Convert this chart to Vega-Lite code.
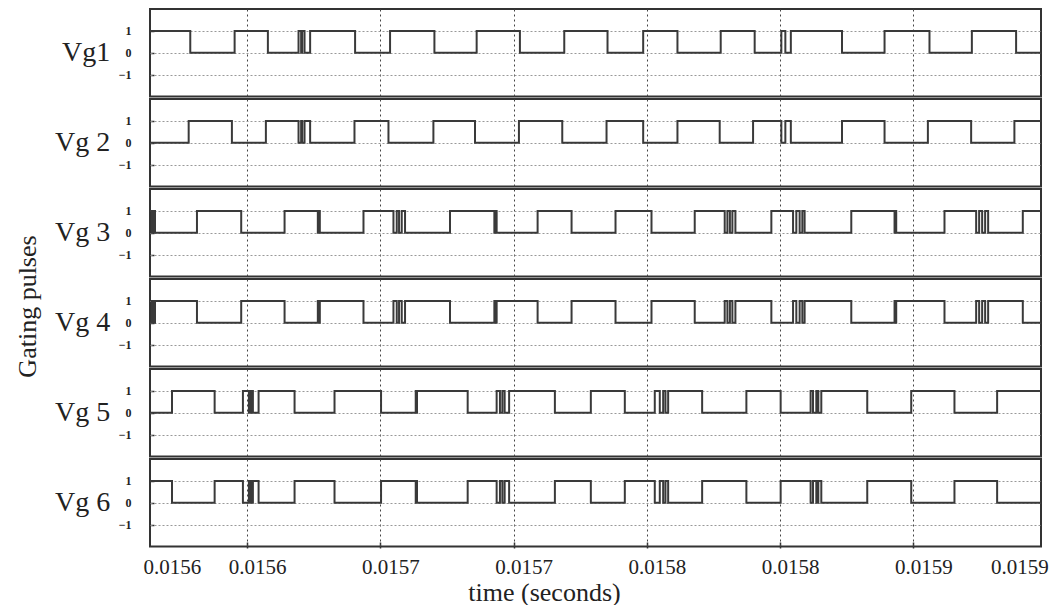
{
  "$schema": "https://vega.github.io/schema/vega-lite/v6.json",
  "padding": {"left": 14, "top": 8, "right": 5, "bottom": 0},
  "background": "white",
  "title": {"text": "Gating pulses", "orient": "left", "anchor": "middle", "font": "Liberation Serif", "fontSize": 26, "fontWeight": "normal", "color": "#222", "offset": 14},
  "data": {"values": [
    {"panel":"Vg1","time":0.0155636,"value":1},{"panel":"Vg1","time":0.01557871,"value":0},{"panel":"Vg1","time":0.01559535,"value":1},{"panel":"Vg1","time":0.01560783,"value":0},{"panel":"Vg1","time":0.01561933,"value":1},{"panel":"Vg1","time":0.01562031,"value":0},{"panel":"Vg1","time":0.01562068,"value":1},{"panel":"Vg1","time":0.01562158,"value":0},{"panel":"Vg1","time":0.01562368,"value":1},{"panel":"Vg1","time":0.01564055,"value":0},{"panel":"Vg1","time":0.01565367,"value":1},{"panel":"Vg1","time":0.01567031,"value":0},{"panel":"Vg1","time":0.01568616,"value":1},{"panel":"Vg1","time":0.01570239,"value":0},{"panel":"Vg1","time":0.01571903,"value":1},{"panel":"Vg1","time":0.01573526,"value":0},{"panel":"Vg1","time":0.01574864,"value":1},{"panel":"Vg1","time":0.0157615,"value":0},{"panel":"Vg1","time":0.01577773,"value":1},{"panel":"Vg1","time":0.01579047,"value":0},{"panel":"Vg1","time":0.01580048,"value":1},{"panel":"Vg1","time":0.01580198,"value":0},{"panel":"Vg1","time":0.01580404,"value":1},{"panel":"Vg1","time":0.01582323,"value":0},{"panel":"Vg1","time":0.0158392,"value":1},{"panel":"Vg1","time":0.01585606,"value":0},{"panel":"Vg1","time":0.01587196,"value":1},{"panel":"Vg1","time":0.01588856,"value":0},{"panel":"Vg1","time":0.01589793,"value":0},
    {"panel":"Vg 2","time":0.0155636,"value":0},{"panel":"Vg 2","time":0.01557811,"value":1},{"panel":"Vg 2","time":0.01559433,"value":0},{"panel":"Vg 2","time":0.01560708,"value":1},{"panel":"Vg 2","time":0.01561933,"value":0},{"panel":"Vg 2","time":0.01562031,"value":1},{"panel":"Vg 2","time":0.01562068,"value":0},{"panel":"Vg 2","time":0.01562158,"value":1},{"panel":"Vg 2","time":0.01562368,"value":0},{"panel":"Vg 2","time":0.01564032,"value":1},{"panel":"Vg 2","time":0.01565307,"value":0},{"panel":"Vg 2","time":0.01566993,"value":1},{"panel":"Vg 2","time":0.01568553,"value":0},{"panel":"Vg 2","time":0.01570202,"value":1},{"panel":"Vg 2","time":0.01571828,"value":0},{"panel":"Vg 2","time":0.01573489,"value":1},{"panel":"Vg 2","time":0.01574864,"value":0},{"panel":"Vg 2","time":0.0157615,"value":1},{"panel":"Vg 2","time":0.01577735,"value":0},{"panel":"Vg 2","time":0.01578987,"value":1},{"panel":"Vg 2","time":0.01580048,"value":0},{"panel":"Vg 2","time":0.01580198,"value":1},{"panel":"Vg 2","time":0.01580404,"value":0},{"panel":"Vg 2","time":0.01582323,"value":1},{"panel":"Vg 2","time":0.0158392,"value":0},{"panel":"Vg 2","time":0.01585546,"value":1},{"panel":"Vg 2","time":0.01587169,"value":0},{"panel":"Vg 2","time":0.01588792,"value":1},{"panel":"Vg 2","time":0.01589793,"value":1},
    {"panel":"Vg 3","time":0.0155636,"value":1},{"panel":"Vg 3","time":0.01556435,"value":0},{"panel":"Vg 3","time":0.01556472,"value":1},{"panel":"Vg 3","time":0.01556547,"value":0},{"panel":"Vg 3","time":0.01558122,"value":1},{"panel":"Vg 3","time":0.01559782,"value":0},{"panel":"Vg 3","time":0.01561409,"value":1},{"panel":"Vg 3","time":0.01562657,"value":0},{"panel":"Vg 3","time":0.01562694,"value":1},{"panel":"Vg 3","time":0.01562732,"value":0},{"panel":"Vg 3","time":0.0156437,"value":1},{"panel":"Vg 3","time":0.01565494,"value":0},{"panel":"Vg 3","time":0.01565618,"value":1},{"panel":"Vg 3","time":0.01565704,"value":0},{"panel":"Vg 3","time":0.01565805,"value":1},{"panel":"Vg 3","time":0.01565929,"value":0},{"panel":"Vg 3","time":0.01567616,"value":1},{"panel":"Vg 3","time":0.0156928,"value":0},{"panel":"Vg 3","time":0.01569317,"value":1},{"panel":"Vg 3","time":0.01569366,"value":0},{"panel":"Vg 3","time":0.01570903,"value":1},{"panel":"Vg 3","time":0.01572177,"value":0},{"panel":"Vg 3","time":0.01573826,"value":1},{"panel":"Vg 3","time":0.01575176,"value":0},{"panel":"Vg 3","time":0.01576798,"value":1},{"panel":"Vg 3","time":0.01577923,"value":0},{"panel":"Vg 3","time":0.01578024,"value":1},{"panel":"Vg 3","time":0.01578118,"value":0},{"panel":"Vg 3","time":0.01578211,"value":1},{"panel":"Vg 3","time":0.01578324,"value":0},{"panel":"Vg 3","time":0.01579673,"value":1},{"panel":"Vg 3","time":0.01580487,"value":0},{"panel":"Vg 3","time":0.0158061,"value":1},{"panel":"Vg 3","time":0.01580734,"value":0},{"panel":"Vg 3","time":0.01580835,"value":1},{"panel":"Vg 3","time":0.01580921,"value":0},{"panel":"Vg 3","time":0.01582672,"value":1},{"panel":"Vg 3","time":0.01584295,"value":0},{"panel":"Vg 3","time":0.01584321,"value":1},{"panel":"Vg 3","time":0.01584358,"value":0},{"panel":"Vg 3","time":0.01586169,"value":1},{"panel":"Vg 3","time":0.01587357,"value":0},{"panel":"Vg 3","time":0.01587469,"value":1},{"panel":"Vg 3","time":0.01587582,"value":0},{"panel":"Vg 3","time":0.01587694,"value":1},{"panel":"Vg 3","time":0.01587807,"value":0},{"panel":"Vg 3","time":0.01589107,"value":1},{"panel":"Vg 3","time":0.01589793,"value":1},
    {"panel":"Vg 4","time":0.0155636,"value":0},{"panel":"Vg 4","time":0.01556435,"value":1},{"panel":"Vg 4","time":0.01556472,"value":0},{"panel":"Vg 4","time":0.01556547,"value":1},{"panel":"Vg 4","time":0.01558122,"value":0},{"panel":"Vg 4","time":0.01559782,"value":1},{"panel":"Vg 4","time":0.01561409,"value":0},{"panel":"Vg 4","time":0.01562657,"value":1},{"panel":"Vg 4","time":0.01562694,"value":0},{"panel":"Vg 4","time":0.01562732,"value":1},{"panel":"Vg 4","time":0.0156437,"value":0},{"panel":"Vg 4","time":0.01565494,"value":1},{"panel":"Vg 4","time":0.01565618,"value":0},{"panel":"Vg 4","time":0.01565704,"value":1},{"panel":"Vg 4","time":0.01565805,"value":0},{"panel":"Vg 4","time":0.01565929,"value":1},{"panel":"Vg 4","time":0.01567616,"value":0},{"panel":"Vg 4","time":0.0156928,"value":1},{"panel":"Vg 4","time":0.01569317,"value":0},{"panel":"Vg 4","time":0.01569366,"value":1},{"panel":"Vg 4","time":0.01570903,"value":0},{"panel":"Vg 4","time":0.01572177,"value":1},{"panel":"Vg 4","time":0.01573826,"value":0},{"panel":"Vg 4","time":0.01575176,"value":1},{"panel":"Vg 4","time":0.01576798,"value":0},{"panel":"Vg 4","time":0.01577923,"value":1},{"panel":"Vg 4","time":0.01578024,"value":0},{"panel":"Vg 4","time":0.01578118,"value":1},{"panel":"Vg 4","time":0.01578211,"value":0},{"panel":"Vg 4","time":0.01578324,"value":1},{"panel":"Vg 4","time":0.01579673,"value":0},{"panel":"Vg 4","time":0.01580487,"value":1},{"panel":"Vg 4","time":0.0158061,"value":0},{"panel":"Vg 4","time":0.01580734,"value":1},{"panel":"Vg 4","time":0.01580835,"value":0},{"panel":"Vg 4","time":0.01580921,"value":1},{"panel":"Vg 4","time":0.01582672,"value":0},{"panel":"Vg 4","time":0.01584295,"value":1},{"panel":"Vg 4","time":0.01584321,"value":0},{"panel":"Vg 4","time":0.01584358,"value":1},{"panel":"Vg 4","time":0.01586169,"value":0},{"panel":"Vg 4","time":0.01587357,"value":1},{"panel":"Vg 4","time":0.01587469,"value":0},{"panel":"Vg 4","time":0.01587582,"value":1},{"panel":"Vg 4","time":0.01587694,"value":0},{"panel":"Vg 4","time":0.01587807,"value":1},{"panel":"Vg 4","time":0.01589107,"value":0},{"panel":"Vg 4","time":0.01589793,"value":0},
    {"panel":"Vg 5","time":0.0155636,"value":0},{"panel":"Vg 5","time":0.01557185,"value":1},{"panel":"Vg 5","time":0.01558785,"value":0},{"panel":"Vg 5","time":0.01559846,"value":1},{"panel":"Vg 5","time":0.01560071,"value":0},{"panel":"Vg 5","time":0.01560146,"value":1},{"panel":"Vg 5","time":0.01560221,"value":0},{"panel":"Vg 5","time":0.01560434,"value":1},{"panel":"Vg 5","time":0.01561784,"value":0},{"panel":"Vg 5","time":0.01563283,"value":1},{"panel":"Vg 5","time":0.01565029,"value":0},{"panel":"Vg 5","time":0.0156633,"value":1},{"panel":"Vg 5","time":0.01566356,"value":0},{"panel":"Vg 5","time":0.01566379,"value":1},{"panel":"Vg 5","time":0.01568279,"value":0},{"panel":"Vg 5","time":0.01569366,"value":1},{"panel":"Vg 5","time":0.0156949,"value":0},{"panel":"Vg 5","time":0.0156958,"value":1},{"panel":"Vg 5","time":0.01569666,"value":0},{"panel":"Vg 5","time":0.01569834,"value":1},{"panel":"Vg 5","time":0.01571551,"value":0},{"panel":"Vg 5","time":0.015729,"value":1},{"panel":"Vg 5","time":0.01574175,"value":0},{"panel":"Vg 5","time":0.01575299,"value":1},{"panel":"Vg 5","time":0.01575487,"value":0},{"panel":"Vg 5","time":0.01575614,"value":1},{"panel":"Vg 5","time":0.015757,"value":0},{"panel":"Vg 5","time":0.01575801,"value":1},{"panel":"Vg 5","time":0.01577076,"value":0},{"panel":"Vg 5","time":0.01578736,"value":1},{"panel":"Vg 5","time":0.01580022,"value":0},{"panel":"Vg 5","time":0.01581146,"value":1},{"panel":"Vg 5","time":0.01581236,"value":0},{"panel":"Vg 5","time":0.0158136,"value":1},{"panel":"Vg 5","time":0.01581435,"value":0},{"panel":"Vg 5","time":0.01581547,"value":1},{"panel":"Vg 5","time":0.01583271,"value":0},{"panel":"Vg 5","time":0.01584921,"value":1},{"panel":"Vg 5","time":0.01586543,"value":0},{"panel":"Vg 5","time":0.01588144,"value":1},{"panel":"Vg 5","time":0.01589793,"value":1},
    {"panel":"Vg 6","time":0.0155636,"value":1},{"panel":"Vg 6","time":0.01557185,"value":0},{"panel":"Vg 6","time":0.01558785,"value":1},{"panel":"Vg 6","time":0.01559846,"value":0},{"panel":"Vg 6","time":0.01560071,"value":1},{"panel":"Vg 6","time":0.01560146,"value":0},{"panel":"Vg 6","time":0.01560221,"value":1},{"panel":"Vg 6","time":0.01560434,"value":0},{"panel":"Vg 6","time":0.01561784,"value":1},{"panel":"Vg 6","time":0.01563283,"value":0},{"panel":"Vg 6","time":0.01565029,"value":1},{"panel":"Vg 6","time":0.0156633,"value":0},{"panel":"Vg 6","time":0.01566356,"value":1},{"panel":"Vg 6","time":0.01566379,"value":0},{"panel":"Vg 6","time":0.01568279,"value":1},{"panel":"Vg 6","time":0.01569366,"value":0},{"panel":"Vg 6","time":0.0156949,"value":1},{"panel":"Vg 6","time":0.0156958,"value":0},{"panel":"Vg 6","time":0.01569666,"value":1},{"panel":"Vg 6","time":0.01569834,"value":0},{"panel":"Vg 6","time":0.01571551,"value":1},{"panel":"Vg 6","time":0.015729,"value":0},{"panel":"Vg 6","time":0.01574175,"value":1},{"panel":"Vg 6","time":0.01575299,"value":0},{"panel":"Vg 6","time":0.01575487,"value":1},{"panel":"Vg 6","time":0.01575614,"value":0},{"panel":"Vg 6","time":0.015757,"value":1},{"panel":"Vg 6","time":0.01575801,"value":0},{"panel":"Vg 6","time":0.01577076,"value":1},{"panel":"Vg 6","time":0.01578736,"value":0},{"panel":"Vg 6","time":0.01580022,"value":1},{"panel":"Vg 6","time":0.01581146,"value":0},{"panel":"Vg 6","time":0.01581236,"value":1},{"panel":"Vg 6","time":0.0158136,"value":0},{"panel":"Vg 6","time":0.01581435,"value":1},{"panel":"Vg 6","time":0.01581547,"value":0},{"panel":"Vg 6","time":0.01583271,"value":1},{"panel":"Vg 6","time":0.01584921,"value":0},{"panel":"Vg 6","time":0.01586543,"value":1},{"panel":"Vg 6","time":0.01588144,"value":0},{"panel":"Vg 6","time":0.01589793,"value":0}
  ]},
  "facet": {
    "row": {
      "field": "panel", "type": "nominal",
      "sort": ["Vg1", "Vg 2", "Vg 3", "Vg 4", "Vg 5", "Vg 6"],
      "header": {"title": null, "labelOrient": "left", "labelAngle": 0, "labelAlign": "left", "labelBaseline": "middle", "labelFont": "Liberation Serif", "labelFontSize": 28, "labelColor": "#222", "labelPadding": 8}
    }
  },
  "spacing": 0,
  "spec": {
    "width": 891,
    "height": 87.5,
    "mark": {"type": "line", "interpolate": "step-after", "color": "#3a3a3a", "strokeWidth": 2, "clip": true},
    "encoding": {
      "x": {
        "field": "time", "type": "quantitative",
        "scale": {"domain": [0.0155636, 0.0158979], "nice": false, "zero": false},
        "axis": {
          "values": [0.0155681, 0.0156, 0.01565, 0.0157, 0.01575, 0.0158, 0.01585, 0.015886],
          "labelExpr": "format(datum.value + 1e-9, '.4f')",
          "title": "time (seconds)", "titleFont": "Liberation Serif", "titleFontSize": 26, "titleFontWeight": "normal", "titleColor": "#222", "titleX": 394, "titlePadding": 2,
          "labelFont": "Liberation Serif", "labelFontSize": 21, "labelColor": "#222", "labelPadding": 14, "labelOffset": 10, "labelFlush": false, "labelOverlap": false,
          "domain": false, "ticks": true, "tickSize": -6, "tickColor": "#333", "tickWidth": 1.5,
          "tickOpacity": {"condition": {"test": "datum.value < 0.01559 || datum.value > 0.01588", "value": 0}, "value": 1},
          "grid": true, "gridColor": "#444", "gridDash": [2, 3], "gridWidth": 1,
          "gridOpacity": {"condition": {"test": "datum.value < 0.01559 || datum.value > 0.01588", "value": 0}, "value": 1}
        }
      },
      "y": {
        "field": "value", "type": "quantitative",
        "scale": {"domain": [-2, 2], "nice": false, "zero": false},
        "axis": {
          "values": [-1, 0, 1], "title": null,
          "labelFont": "Liberation Serif", "labelFontWeight": "bold", "labelFontSize": 12, "labelColor": "#222", "labelPadding": 23,
          "domain": false, "ticks": true, "tickSize": -5, "tickColor": "#333", "tickWidth": 1.5,
          "grid": true, "gridColor": "#999", "gridDash": [2, 2], "gridWidth": 1
        }
      }
    }
  },
  "config": {
    "font": "Liberation Serif",
    "view": {"stroke": "#333", "strokeWidth": 2}
  }
}
